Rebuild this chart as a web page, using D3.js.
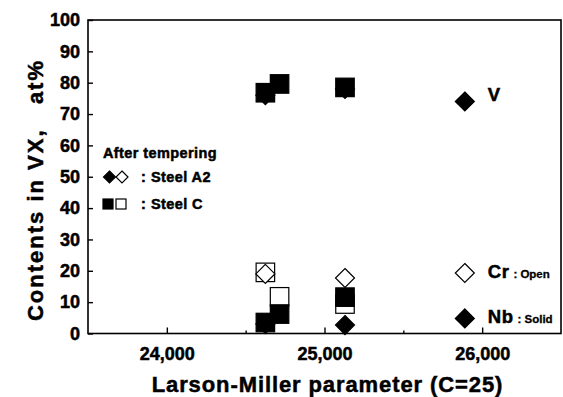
<!DOCTYPE html>
<html><head><meta charset="utf-8">
<script src="https://cdn.jsdelivr.net/npm/d3@7/dist/d3.min.js"></script>
<style>
body{margin:0;background:#fff;}
svg text{font-family:"Liberation Sans",Arial,sans-serif;font-weight:bold;fill:#000;stroke:#000;stroke-width:0.5px;}
</style></head><body>
<svg id="c" width="563" height="397"></svg>
<script>
// Data (Larson-Miller parameter vs content in VX, at%)
const xTicksMajor = [24000, 25000, 26000];
const xTicksMinor = [24500, 25500];
const yTicks = [0,10,20,30,40,50,60,70,80,90,100];

// Steel A2 (diamonds)
const a2LMP = [24625, 25130];
const a2V   = [76, 78];
const a2Cr  = [19, 17.7];
const a2Nb  = [3, 2.7];
// Steel C (squares)
const cLMP = [24625, 24715, 25130];
const cV   = [76.8, 79.6, 78.5];
const cCr  = [19.5, 11.7, 9.4];
const cNb  = [3.5, 6.2, 11.6];

const svg = d3.select("#c");
const L = 88, R = 561, T = 20, B = 333.5;
const x = d3.scaleLinear().domain([23500, 26500]).range([L, R]);
const y = d3.scaleLinear().domain([0, 100]).range([B, T]);

// frame
svg.append("rect").attr("x", L).attr("y", T).attr("width", R - L).attr("height", B - T)
  .attr("fill", "none").attr("stroke", "#000").attr("stroke-width", 1.6);

// axes
const fmt = d3.format(",");
const xAxis = d3.axisBottom(x).tickValues(xTicksMajor).tickSize(-6).tickPadding(14).tickFormat(fmt);
const gx = svg.append("g").attr("transform", `translate(0,${B})`).call(xAxis);
const xMinor = d3.axisBottom(x).tickValues(xTicksMinor).tickSize(-3).tickFormat("");
const gxm = svg.append("g").attr("transform", `translate(0,${B})`).call(xMinor);
const yAxis = d3.axisLeft(y).tickValues(yTicks).tickSize(-5).tickPadding(8);
const gy = svg.append("g").attr("transform", `translate(${L},0)`).call(yAxis);
[gx, gxm, gy].forEach(g => {
  g.select(".domain").remove();
  g.selectAll(".tick line").attr("stroke", "#000").attr("stroke-width", 1.4);
  g.selectAll("text").attr("font-size", 18).attr("font-family", "Liberation Sans, Arial, sans-serif")
    .attr("font-weight", "bold").attr("stroke", "#000").attr("stroke-width", 0.6);
});
gx.selectAll("text").attr("dy", "0.71em");

// axis titles
svg.append("text").attr("x", (L + R) / 2 + 3).attr("y", 392).attr("text-anchor", "middle")
  .attr("font-size", 22).attr("letter-spacing", 0.9).attr("stroke-width", 0.7)
  .text("Larson-Miller parameter (C=25)");
svg.append("text").attr("transform", `translate(43,${190}) rotate(-90)`).attr("text-anchor", "middle")
  .attr("font-size", 22).attr("letter-spacing", 2).attr("stroke-width", 0.7)
  .attr("xml:space", "preserve").text("Contents in VX,   at%");

// markers
const sq = 18.5, dg = 9.5;
function square(xv, yv, filled) {
  svg.append("rect").attr("x", x(xv) - sq / 2).attr("y", y(yv) - sq / 2)
    .attr("width", sq).attr("height", sq)
    .attr("fill", filled ? "#000" : "#fff").attr("stroke", "#000").attr("stroke-width", 1.2);
}
function diamond(xv, yv, filled) {
  const cx = x(xv), cy = y(yv);
  svg.append("path").attr("d", `M${cx},${cy - dg}L${cx + dg},${cy}L${cx},${cy + dg}L${cx - dg},${cy}Z`)
    .attr("fill", filled ? "#000" : "#fff").attr("stroke", "#000").attr("stroke-width", 1.2);
}
// draw order to reproduce overlaps
a2LMP.forEach((v, i) => diamond(v, a2Nb[i], true));
cLMP.forEach((v, i) => square(v, cCr[i], false));
a2LMP.forEach((v, i) => diamond(v, a2Cr[i], false));
a2LMP.forEach((v, i) => diamond(v, a2V[i], true));
cLMP.forEach((v, i) => square(v, cV[i], true));
cLMP.forEach((v, i) => square(v, cNb[i], true));

// element key (right side)
const keyX = 25890;
const keys = [
  {el: "V", sub: "", yv: 74, filled: true},
  {el: "Cr", sub: ": Open", yv: 19.3, filled: false},
  {el: "Nb", sub: ": Solid", yv: 4.8, filled: true}
];
keys.forEach(k => {
  diamond(keyX, k.yv, k.filled);
  const t = svg.append("text").attr("x", x(keyX) + 23).attr("y", y(k.yv) + (k.el === "V" ? -1 : 5));
  t.append("tspan").attr("font-size", 18.5).attr("letter-spacing", 0.5).text(k.el);
  if (k.sub) t.append("tspan").attr("font-size", 11.5).attr("stroke-width", 0.3).attr("dx", 4).text(k.sub);
});

// steel legend
svg.append("text").attr("x", 103).attr("y", 158).attr("font-size", 14.5).attr("letter-spacing", 0.4).text("After tempering");
const lg = [
  {label: "Steel A2", shape: "d", yy: 177},
  {label: "Steel C", shape: "s", yy: 204}
];
lg.forEach(l => {
  if (l.shape === "d") {
    [[109.5, true], [122, false]].forEach(([cx, f]) => {
      svg.append("path").attr("d", `M${cx},${l.yy - 6}L${cx + 6},${l.yy}L${cx},${l.yy + 6}L${cx - 6},${l.yy}Z`)
        .attr("fill", f ? "#000" : "#fff").attr("stroke", "#000").attr("stroke-width", 1.2);
    });
  } else {
    [[103, true], [116, false]].forEach(([lx, f]) => {
      svg.append("rect").attr("x", lx).attr("y", l.yy - 5).attr("width", 10).attr("height", 10)
        .attr("fill", f ? "#000" : "#fff").attr("stroke", "#000").attr("stroke-width", 1.2);
    });
  }
  svg.append("text").attr("x", 141).attr("y", l.yy + 5).attr("font-size", 14.5).text(":");
  svg.append("text").attr("x", 151).attr("y", l.yy + 5).attr("font-size", 14.5).attr("letter-spacing", 0.4).text(l.label);
});
</script>
</body></html>
